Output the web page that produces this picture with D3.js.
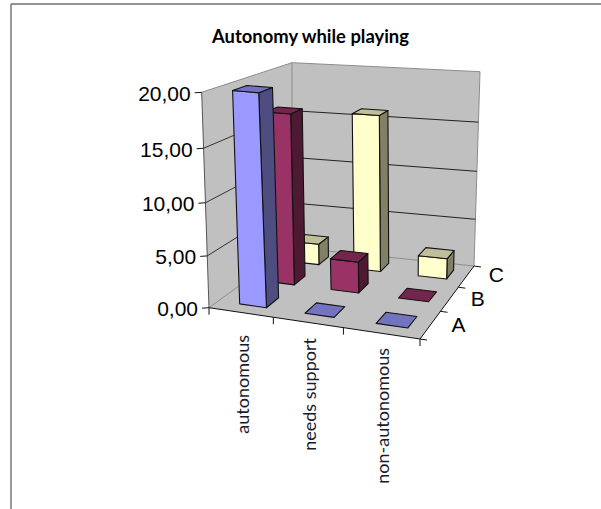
<!DOCTYPE html>
<html><head><meta charset="utf-8">
<style>html,body{margin:0;padding:0;background:#fff}svg{display:block}</style>
<script src="https://cdn.jsdelivr.net/npm/d3@7"></script></head>
<body><svg id="c" width="601" height="509"></svg>
<script>
const title = "Autonomy while playing";
const categories = ["autonomous","needs support","non-autonomous"];
const seriesNames = ["A","B","C"];
const seriesA = [20, 0, 0];
const seriesB = [16.9, 3.1, 0];
const seriesC = [2.2, 16, 2.1];
const yTicks = [0,5,10,15,20];
const palette = {
  A:{front:"#9999ff",side:"#4d4d80",top:"#7373bf"},
  B:{front:"#993366",side:"#4d1933",top:"#73264d"},
  C:{front:"#ffffcc",side:"#808066",top:"#bfbf99"}
};
const values = {A:seriesA,B:seriesB,C:seriesC};

const svg = d3.select("#c");
const x = d3.scaleBand().domain(categories).range([0,1]);
const z = d3.scaleBand().domain(seriesNames).range([0,1]);
const y = d3.scaleLinear().domain([0,20]).range([0,1]);

function homography(q){
  const [[x0,y0],[x1,y1],[x2,y2],[x3,y3]] = q;
  const dx1=x1-x2,dx2=x3-x2,sx=x0-x1+x2-x3,dy1=y1-y2,dy2=y3-y2,sy=y0-y1+y2-y3;
  const det=dx1*dy2-dx2*dy1;
  const g=(sx*dy2-dx2*sy)/det,h=(dx1*sy-sx*dy1)/det;
  const a=x1-x0+g*x1,b=x3-x0+h*x3,d=y1-y0+g*y1,e=y3-y0+h*y3;
  return (u,v)=>{const w=g*u+h*v+1;return [(a*u+b*v+x0)/w,(d*u+e*v+y0)/w];};
}
const floorH = homography([[209,307.7],[420,339],[474,266],[292,247.3]]);
const topH   = homography([[201.7,92.3],[426,113],[480,71.7],[292,62.7]]);
const k = 0.05;
function P(u,t,w){
  const a=floorH(u,w),b=topH(u,w),s=t*(1-k)/(1-k*t);
  return [a[0]+(b[0]-a[0])*s,a[1]+(b[1]-a[1])*s];
}
const line = d3.line();
function poly(pts,fill,stroke,sw){
  svg.append("path").attr("d",line(pts)+"Z").attr("fill",fill)
    .attr("stroke",stroke||"none").attr("stroke-width",sw||1).attr("stroke-linejoin","round");
}
function seg(a,b,stroke,sw){
  svg.append("path").attr("d",line([a,b])).attr("fill","none").attr("stroke",stroke).attr("stroke-width",sw||1);
}
seg([11,4],[601,4],"#707070",1.4);
seg([11,4],[11,509],"#707070",1.4);

poly([P(0,0,0),P(0,1,0),P(0,1,1),P(0,0,1)],"#c0c0c0");
poly([P(0,0,1),P(0,1,1),P(1,1,1),P(1,0,1)],"#c0c0c0");
poly([P(0,0,0),P(1,0,0),P(1,0,1),P(0,0,1)],"#c0c0c0");
const wallEdge="#8c8c8c";
seg(P(0,0,1),P(0,1,1),wallEdge);
seg(P(0,1,0),P(0,1,1),wallEdge);
seg(P(0,1,1),P(1,1,1),wallEdge);
seg(P(1,0,1),P(1,1,1),wallEdge);
seg(P(0,0,0),P(0,1,0),"#555");
seg(P(0,0,0),P(0,0,1),wallEdge);
seg(P(0,0,1),P(1,0,1),wallEdge);
yTicks.filter(v=>v>0&&v<20).forEach(v=>{
  const t=y(v);
  seg(P(0,t,0),P(0,t,1),"#333");
  seg(P(0,t,1),P(1,t,1),"#222");
});
seg(P(0,0,0),P(1,0,0),"#111");
seg(P(1,0,0),P(1,0,1),"#111");
const fmt = v=>d3.format(".2f")(v).replace(".",",");
yTicks.forEach(v=>{
  const p=P(0,y(v),0);
  seg([p[0]-7,p[1]+0.5],p,"#111");
  svg.append("text").attr("x",p[0]-11).attr("y",p[1]+1).attr("dy","0.35em").attr("text-anchor","end")
    .attr("font-family","Liberation Sans").attr("font-size",21).attr("fill","#000").text(fmt(v));
});
const xEdges=[0,...categories.map(c=>x(c)+x.bandwidth())];
xEdges.forEach(u=>{const p=P(u,0,0);seg(p,[p[0],p[1]+7],"#111");});
const zEdges=[0,...seriesNames.map(s=>z(s)+z.bandwidth())];
zEdges.forEach(w=>{const p=P(1,0,w);seg(p,[p[0]+7,p[1]+1],"#111");});

const barFrac=0.42, barShift=0.018;
[...seriesNames].reverse().forEach(s=>{
  const col=palette[s];
  categories.forEach((c,i)=>{
    const v=values[s][i];
    const pad=(1-barFrac)/2;
    const u0=x(c)+x.bandwidth()*pad+barShift,u1=x(c)+x.bandwidth()*(1-pad)+barShift;
    const w0=z(s)+z.bandwidth()*pad,w1=z(s)+z.bandwidth()*(1-pad);
    const t=y(v);
    const out="#111";
    if(v>0){
      poly([P(u1,0,w0),P(u1,0,w1),P(u1,t,w1),P(u1,t,w0)],col.side,out,1.1);
      poly([P(u0,0,w0),P(u1,0,w0),P(u1,t,w0),P(u0,t,w0)],col.front,out,1.1);
    }
    poly([P(u0,t,w0),P(u1,t,w0),P(u1,t,w1),P(u0,t,w1)],col.top,out,1.1);
  });
});

svg.append("text").attr("x",310.5).attr("y",43).attr("text-anchor","middle")
  .attr("font-family","Lato").attr("font-weight","700").attr("font-size",18.4).attr("fill","#000").text(title);

const catTop=d3.scaleOrdinal(categories,[335,338,348]);
categories.forEach(c=>{
  const p=P(x(c)+x.bandwidth()/2,0,0);
  svg.append("text").attr("transform",`translate(${p[0]+8},${catTop(c)}) rotate(-90)`)
    .attr("text-anchor","end").attr("font-family","Lato").attr("font-size",18).attr("fill","#1a1a2e").text(c);
});
const zDx=d3.scaleOrdinal(seriesNames,[28,28,30]),zDy=d3.scaleOrdinal(seriesNames,[7,7,6]);
seriesNames.forEach(s=>{
  const p=P(1,0,z(s)+z.bandwidth()/2);
  svg.append("text").attr("x",p[0]+zDx(s)).attr("y",p[1]+zDy(s)).attr("text-anchor","middle")
    .attr("font-family","Liberation Sans").attr("font-size",21).attr("fill","#000").text(s);
});
</script></body></html>
